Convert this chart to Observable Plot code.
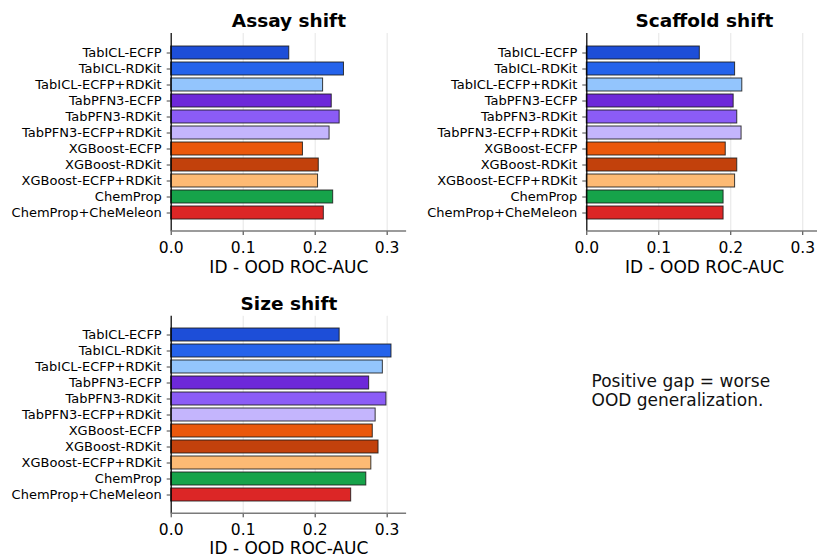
<!DOCTYPE html>
<html>
<head>
<meta charset="utf-8">
<script src="https://cdn.jsdelivr.net/npm/d3@7"></script>
<script src="https://cdn.jsdelivr.net/npm/@observablehq/plot@0.6"></script>
<style>
  html, body { margin: 0; padding: 0; background: #fff; }
  #chart { position: relative; width: 817px; height: 558px; overflow: hidden; font-family: "DejaVu Sans", sans-serif; color: #000; }
  .panel { position: absolute; }
  .panel svg { max-width: none !important; }
  .note { position: absolute; left: 591.5px; top: 371.7px; font-size: 17px; line-height: 19.5px; color: #111; white-space: nowrap; font-family: "DejaVu Sans", sans-serif; }
</style>
</head>
<body>
<div id="chart"></div>
<script>
// ---- data ----
const models = [
  "TabICL-ECFP", "TabICL-RDKit", "TabICL-ECFP+RDKit",
  "TabPFN3-ECFP", "TabPFN3-RDKit", "TabPFN3-ECFP+RDKit",
  "XGBoost-ECFP", "XGBoost-RDKit", "XGBoost-ECFP+RDKit",
  "ChemProp", "ChemProp+CheMeleon"
];
const colors = [
  "#1d4ed8", "#2563eb", "#93c5fd",
  "#6d28d9", "#8b5cf6", "#c4b5fd",
  "#ea580c", "#c2410c", "#fdba74",
  "#16a34a", "#dc2626"
];
const assayShift    = [0.164, 0.240, 0.211, 0.223, 0.234, 0.220, 0.183, 0.205, 0.204, 0.225, 0.212];
const scaffoldShift = [0.157, 0.206, 0.216, 0.204, 0.209, 0.215, 0.193, 0.209, 0.206, 0.190, 0.190];
const sizeShift     = [0.234, 0.306, 0.294, 0.275, 0.299, 0.284, 0.280, 0.288, 0.278, 0.271, 0.250];
const titles = ["Assay shift", "Scaffold shift", "Size shift"];
const xLabel = "ID - OOD ROC-AUC";
const xTicks = [0.0, 0.1, 0.2, 0.3];
const noteLines = ["Positive gap = worse", "OOD generalization."];

// ---- layout ----
const layouts = [
  {left: 0,   top: 0,   width: 420, height: 290, x0: 170.7, yTop: 33,   yBottom: 231, labelDy: 41.7},
  {left: 416, top: 0,   width: 420, height: 290, x0: 170.3, yTop: 33,   yBottom: 231, labelDy: 41.7},
  {left: 0,   top: 290, width: 420, height: 268, x0: 170.7, yTop: 25.8, yBottom: 223.3, labelDy: 40.3}
];
const plotW = 235.4;

function bottomSpine(index, scales, values, dims) {
  const y = dims.height - dims.marginBottom;
  return d3.create("svg:line")
    .attr("x1", dims.marginLeft).attr("x2", dims.width - dims.marginRight)
    .attr("y1", y).attr("y2", y)
    .attr("stroke", "#7a7a7a").attr("stroke-width", 1.4)
    .node();
}

function makePanel(title, values, L) {
  const data = models.map((m, i) => ({model: m, value: values[i], color: colors[i]}));
  const svg = Plot.plot({
    width: L.width,
    height: L.height,
    marginLeft: L.x0,
    marginRight: L.width - L.x0 - plotW,
    marginTop: L.yTop,
    marginBottom: L.height - L.yBottom,
    style: {fontFamily: "DejaVu Sans, sans-serif", background: "transparent", color: "#000", overflow: "visible", maxWidth: "none"},
    x: {domain: [0, 0.327]},
    y: {domain: models, paddingInner: 0.2, paddingOuter: 0.55},
    color: {type: "identity"},
    marks: [
      Plot.gridX(xTicks, {stroke: "#d0d0d0", strokeOpacity: 0.55, strokeWidth: 1}),
      Plot.barX(data, {x: "value", y: "model", fill: "color", stroke: "#1a1a1a", strokeWidth: 1, strokeOpacity: 0.85}),
      Plot.axisX(xTicks, {tickFormat: d3.format(".1f"), tickSize: 4, tickPadding: 6, fontSize: 15.5, label: null, stroke: "#333"}),
      Plot.axisY({tickSize: 4, tickPadding: 5.5, fontSize: 13, label: null, stroke: "#444"}),
      Plot.ruleX([0], {stroke: "#000", strokeWidth: 1.2}),
      bottomSpine,
      Plot.text([title], {text: d => d, frameAnchor: "top", dy: -6.3, lineAnchor: "bottom", fontSize: 18.5, fontWeight: "bold"}),
      Plot.text([xLabel], {text: d => d, frameAnchor: "bottom", dy: L.labelDy, lineAnchor: "bottom", fontSize: 17})
    ]
  });
  const wrap = document.createElement("div");
  wrap.className = "panel";
  wrap.style.left = L.left + "px";
  wrap.style.top = L.top + "px";
  wrap.style.width = L.width + "px";
  wrap.style.height = L.height + "px";
  wrap.appendChild(svg);
  document.getElementById("chart").appendChild(wrap);
}

makePanel(titles[0], assayShift, layouts[0]);
makePanel(titles[1], scaffoldShift, layouts[1]);
makePanel(titles[2], sizeShift, layouts[2]);

const note = document.createElement("div");
note.className = "note";
note.innerHTML = noteLines.join("<br>");
document.getElementById("chart").appendChild(note);
</script>
</body>
</html>
